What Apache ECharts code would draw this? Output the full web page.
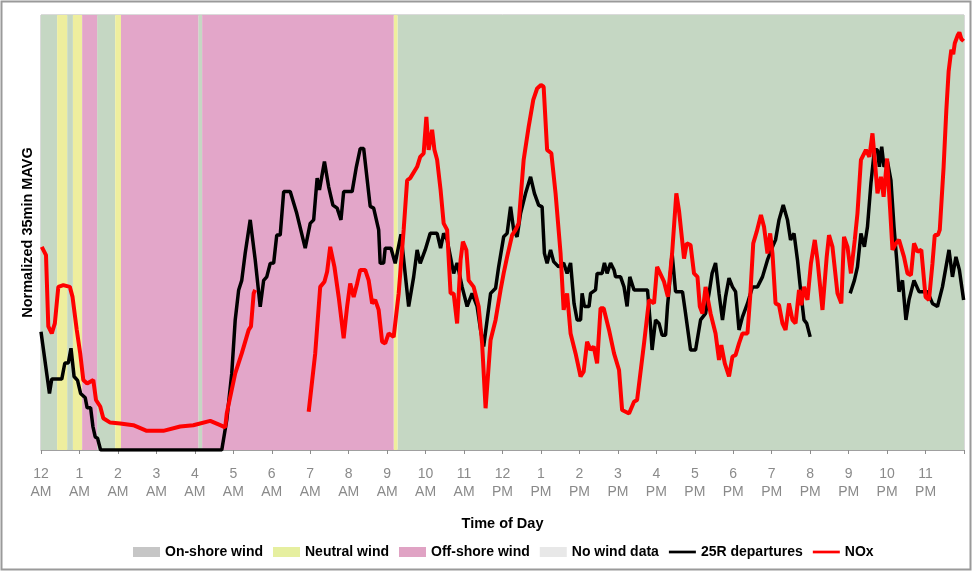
<!DOCTYPE html>
<html>
<head>
<meta charset="utf-8">
<script src="https://cdn.jsdelivr.net/npm/echarts@6/dist/echarts.min.js"></script>
<style>
  html, body { margin: 0; padding: 0; background: #ffffff; }
  #chart { width: 972px; height: 571px; }
</style>
</head>
<body>
<div id="chart"></div>
<script>
// Wind regime periods (hours after midnight)
const bandStart = [0, 0.42, 0.68, 0.83, 1.07, 1.46, 1.93, 2.08, 4.09, 4.19, 9.17, 9.27];
const bandEnd   = [0.42, 0.68, 0.83, 1.07, 1.46, 1.93, 2.08, 4.09, 4.19, 9.17, 9.27, 24];
const bandWind  = ['On-shore wind', 'Neutral wind', 'On-shore wind', 'Neutral wind', 'Off-shore wind',
                   'On-shore wind', 'Neutral wind', 'Off-shore wind', 'On-shore wind', 'Off-shore wind',
                   'Neutral wind', 'On-shore wind'];

// Runway 25R departures, normalized 35-minute moving average
const depHours = [0, 0.22, 0.28, 0.54, 0.62, 0.71, 0.78, 0.86, 0.95, 1.03, 1.15, 1.2, 1.29, 1.35, 1.41, 1.47, 1.55,
  4.70, 4.83, 4.96, 5.05, 5.14, 5.22, 5.31, 5.44, 5.57, 5.70, 5.79, 5.87, 5.96, 6.05, 6.13, 6.22, 6.31, 6.48, 6.65,
  6.87, 7.0, 7.09, 7.18, 7.24, 7.37, 7.48, 7.59, 7.70, 7.80, 7.87, 8.09, 8.20, 8.30, 8.39, 8.56, 8.65, 8.78, 8.82,
  8.91, 8.95, 9.10, 9.21, 9.36, 9.56, 9.69, 9.78, 9.86, 9.99, 10.12, 10.30, 10.39, 10.47, 10.56, 10.73, 10.82,
  10.95, 11.08, 11.21, 11.34, 11.43, 11.51, 11.69, 11.82, 11.90, 12.03, 12.12, 12.21, 12.29, 12.38, 12.47, 12.60,
  12.73, 12.83, 12.94, 13.03, 13.09, 13.16, 13.25, 13.33, 13.46, 13.59, 13.68, 13.77, 13.86, 13.94, 14.03, 14.07,
  14.13, 14.25, 14.29, 14.42, 14.46, 14.59, 14.65, 14.72, 14.81, 14.90, 14.94, 15.07, 15.16, 15.24, 15.31, 15.42,
  15.77, 15.85, 15.89, 15.98, 16.07, 16.15, 16.24, 16.29, 16.33, 16.41, 16.50, 16.68, 16.76, 16.89, 17.02, 17.15,
  17.28, 17.37, 17.45, 17.54, 17.63, 17.72, 17.80, 17.89, 17.98, 18.06, 18.15, 18.24, 18.37, 18.50, 18.63, 18.76,
  18.89, 19.02, 19.10, 19.19, 19.30, 19.41, 19.49, 19.58, 19.67, 19.76, 19.84, 19.91, 20.0, 20.5,
  21.04, 21.15, 21.23, 21.32, 21.41, 21.49, 21.58, 21.67, 21.75, 21.80, 21.86, 21.92, 22.01, 22.10, 22.18, 22.25,
  22.31, 22.40, 22.49, 22.57, 22.70, 22.83, 23.05, 23.18, 23.31, 23.44, 23.61, 23.70, 23.79, 23.88, 23.99];
const depValues = [27.2, 13, 16.3, 16.3, 20, 20, 23.4, 16.9, 16, 13, 12, 9.7, 9.7, 5.4, 3, 2.7, 0,
  0, 6.9, 17.6, 29.9, 36.8, 39, 45.3, 52.9, 43.7, 32.9, 39, 39.8, 42.9, 43, 49.4, 49.4, 59.4, 59.4, 54.4,
  46.4, 52.1, 52.9, 62.5, 59.8, 66.3, 60.5, 56.3, 55.6, 52.9, 59.4, 59.4, 65.1, 69.3, 69.3, 56, 55.6, 50.6, 42.9,
  43, 46.4, 46.4, 42.9, 49.6, 33, 39.8, 46, 42.9, 46, 49.8, 49.8, 46.4, 49.8, 48.3, 40.6, 43,
  37.5, 33, 36, 33, 27.6, 23.8, 36, 37.2, 42.1, 49, 49.8, 55.9, 50.6, 49, 54.4, 59,
  62.8, 59, 56.3, 55.9, 45.2, 42.9, 46, 43.3, 42.1, 43, 40.6, 43, 33.7, 29.9, 29.9, 36,
  33, 33, 36, 36.8, 40.6, 40.6, 43, 40.6, 43, 41.4, 39.8, 39.8, 37.5, 33, 39.8, 36.8,
  36.8, 28.4, 23, 29.9, 29.1, 26.4, 26.4, 33, 36.8, 45.2, 36.4, 36.4, 31.4, 23, 23, 29.9,
  31.4, 36, 40.6, 43, 36, 29.9, 35.2, 39.5, 37.5, 36.4, 27.6, 30.6, 33.7, 37.5, 37.5, 39.8,
  43.7, 46.7, 48.3, 52.9, 56.3, 52.9, 48.3, 49.8, 43.7, 36, 29.9, 29.1, 26, null,
  36, 39, 42.1, 49.8, 46.7, 51.3, 61.3, 69, 69, 65.1, 69.7, 65.1, 66.3, 62, 51.3, 43.7,
  36.4, 39, 29.9, 34.5, 39, 36.4, 36.4, 33.7, 33, 37.5, 46, 39.8, 44.4, 41.4, 34.5];

// NOx concentration, normalized 35-minute moving average
const noxHours = [0.02, 0.13, 0.19, 0.28, 0.36, 0.45, 0.58, 0.75, 0.82, 0.93, 1.02, 1.10, 1.20, 1.36, 1.43, 1.54,
  1.62, 1.80, 2.06, 2.40, 2.75, 3.18, 3.62, 3.96, 4.40, 4.66, 4.79, 4.83, 5.05, 5.22, 5.40, 5.46, 5.53, 5.57, 6.2,
  6.96, 7.13, 7.26, 7.37, 7.44, 7.52, 7.63, 7.74, 7.87, 7.96, 8.04, 8.13, 8.22, 8.30, 8.43, 8.52, 8.61, 8.69, 8.78,
  8.87, 8.95, 9.04, 9.17, 9.30, 9.43, 9.52, 9.60, 9.65, 9.78, 9.86, 9.95, 10.02, 10.08, 10.17, 10.23, 10.30, 10.39,
  10.47, 10.56, 10.65, 10.73, 10.82, 10.91, 10.97, 11.06, 11.12, 11.25, 11.38, 11.47, 11.56, 11.69, 11.82, 11.95,
  12.03, 12.12, 12.16, 12.25, 12.34, 12.42, 12.55, 12.68, 12.80, 12.90, 13.0, 13.07, 13.16, 13.27, 13.38, 13.51,
  13.59, 13.68, 13.77, 13.90, 14.03, 14.11, 14.20, 14.29, 14.37, 14.46, 14.55, 14.63, 14.77, 14.90, 15.03, 15.11,
  15.29, 15.42, 15.50, 15.68, 15.81, 15.94, 16.02, 16.20, 16.30, 16.41, 16.52, 16.59, 16.68, 16.72, 16.79, 16.89,
  16.98, 17.07, 17.13, 17.20, 17.28, 17.41, 17.54, 17.63, 17.69, 17.78, 17.89, 17.98, 18.06, 18.15, 18.24, 18.37,
  18.44, 18.52, 18.61, 18.72, 18.80, 18.89, 18.96, 19.02, 19.10, 19.19, 19.28, 19.36, 19.45, 19.54, 19.62, 19.71,
  19.77, 19.84, 19.93, 20.02, 20.12, 20.19, 20.32, 20.43, 20.49, 20.58, 20.71, 20.81, 20.88, 20.97, 21.06, 21.16,
  21.23, 21.32, 21.45, 21.54, 21.62, 21.68, 21.75, 21.84, 21.91, 22.00, 22.08, 22.14, 22.23, 22.31, 22.44, 22.53,
  22.62, 22.70, 22.79, 22.89, 23.0, 23.09, 23.18, 23.24, 23.32, 23.37, 23.47, 23.54, 23.60, 23.67, 23.72, 23.76,
  23.84, 23.88, 23.93, 23.99];
const noxValues = [46.7, 44.8, 28.4, 26.8, 29.1, 37.5, 37.9, 37.5, 35.2, 27.6, 22.2, 16.1, 15.3, 16.1, 11.5, 10,
  7.3, 6.3, 6.1, 5.7, 4.4, 4.4, 5.4, 5.7, 6.7, 5.7, 5.2, 8.4, 17.6, 22.2, 27.6, 28.4, 36, 36.8, null,
  8.8, 22.2, 37.5, 38.7, 41, 46.7, 42.1, 35.2, 25.7, 33, 38.3, 35.2, 38.3, 41.4, 41.4, 39, 33.7, 34.5, 32.2,
  24.9, 24.5, 26.8, 26, 36, 50.6, 62, 62.5, 62.8, 65.1, 67.4, 68.2, 76.6, 69, 73.6, 69, 66.7, 59.8,
  52.1, 50.6, 36, 36, 29.1, 43.7, 47.9, 46, 39, 37.5, 33, 24.5, 9.6, 25.3, 29.9, 36.8,
  40.6, 44.4, 44.4, 49.4, 50.6, 52.1, 66.7, 74.3, 80.5, 83.1, 83.9, 83.5, 69, 68.2, 59, 45.2,
  32.2, 36, 26.8, 22.2, 16.9, 18, 24.9, 23, 23.8, 19.9, 32.6, 32.6, 27.6, 22.2, 18.4, 9.2,
  8.4, 11.1, 11.5, 24.5, 34.5, 33.7, 42.1, 38.7, 35.2, 45.2, 59, 55, 47.5, 44, 47.5, 47.1,
  40.6, 39.8, 33, 31.4, 37.5, 31.4, 26.8, 20.7, 24.1, 19.9, 16.9, 21.5, 21.8, 24.5, 26.8, 26.8,
  35.2, 47.5, 50.2, 54, 51.3, 45.2, 49.8, 45.2, 33.7, 33.3, 29.1, 27.6, 33.7, 29.9, 29.1, 36.8,
  33.3, 37.5, 34.5, 42.9, 48.3, 43.7, 32.2, 44.4, 49.4, 46.7, 36, 33.7, 49, 46.7, 40.6, 48.3,
  54.4, 66.7, 69, 67.4, 72.8, 66.7, 59, 62.8, 58.2, 67, 55.2, 46, 47.5, 48.3, 44.4, 40.6,
  40.2, 47.5, 45.6, 46, 35.2, 34.5, 42.9, 49.4, 49.4, 50.6, 65.1, 78, 87, 92, 91, 93.5,
  95.4, 96, 94.5, 94];

// Hour ticks along the time axis
const hourTicks = [0, 1, 2, 3, 4, 5, 6, 7, 8, 9, 10, 11, 12, 13, 14, 15, 16, 17, 18, 19, 20, 21, 22, 23];

const windFill = {
  'On-shore wind': '#c5d7c3',
  'Neutral wind': '#eeee9e',
  'Off-shore wind': '#e3a6c9',
  'No wind data': '#e6e6e6'
};
const windSwatch = {
  'On-shore wind': '#c6c6c6',
  'Neutral wind': '#e6efa0',
  'Off-shore wind': '#e0a3c4',
  'No wind data': '#e8e8e8'
};
const windNames = ['On-shore wind', 'Neutral wind', 'Off-shore wind', 'No wind data'];

// thin horizontal stroke inside a full-height icon box
const lineIcon = 'path://M0,0M0,10M0,3.5L30,3.5L30,6.5L0,6.5Z';

function pairs(xs, ys) {
  return xs.map((x, i) => [x, ys[i] === null ? '-' : ys[i]]);
}

const windSeries = windNames.map(name => ({
  name: name,
  type: 'line',
  data: [],
  silent: true,
  itemStyle: { color: windSwatch[name] },
  markArea: {
    silent: true,
    itemStyle: { color: windFill[name], opacity: 1 },
    data: bandStart
      .map((s, i) => ({ s: s, e: bandEnd[i], w: bandWind[i] }))
      .filter(b => b.w === name)
      .map(b => [{ xAxis: b.s }, { xAxis: b.e }])
  }
}));

const chart = echarts.init(document.getElementById('chart'), null, { renderer: 'canvas' });
const fontFam = '"Liberation Sans", Arial, sans-serif';

chart.setOption({
  animation: false,
  backgroundColor: '#ffffff',
  textStyle: { fontFamily: fontFam },
  graphic: [{
    type: 'rect',
    shape: { x: 1.5, y: 1.5, width: 969, height: 568 },
    style: { fill: 'none', stroke: '#9a9a9a', lineWidth: 2 },
    silent: true,
    z: 100
  }],
  grid: { left: 41, right: 8, top: 15, bottom: 121, show: true, borderColor: '#b4b4b4', borderWidth: 1, backgroundColor: 'transparent' },
  legend: {
    bottom: 7,
    left: 128,
    itemWidth: 27,
    itemHeight: 10,
    itemGap: 10,
    textStyle: { fontFamily: fontFam, fontWeight: 'bold', fontSize: 14, color: '#000' },
    data: windNames.map(n => ({ name: n, icon: 'rect' })).concat([
      { name: '25R departures', icon: lineIcon, itemStyle: { color: '#000' } },
      { name: 'NOx', icon: lineIcon, itemStyle: { color: '#ff0000' } }
    ])
  },
  xAxis: {
    type: 'value',
    min: 0,
    max: 24,
    interval: 1,
    name: 'Time of Day',
    nameLocation: 'middle',
    nameGap: 66,
    nameTextStyle: { fontFamily: fontFam, fontWeight: 'bold', fontSize: 14.5, color: '#000' },
    axisLine: { show: true, lineStyle: { color: '#a0a0a0' } },
    axisTick: { show: true, length: 4, lineStyle: { color: '#8c8c8c' } },
    splitLine: { show: false },
    axisLabel: {
      color: '#8a8a8a',
      fontSize: 14,
      lineHeight: 18,
      margin: 15,
      formatter: function (v) {
        if (hourTicks.indexOf(v) < 0) return '';
        const h = v % 12 === 0 ? 12 : v % 12;
        return h + '\n' + (v < 12 ? 'AM' : 'PM');
      }
    }
  },
  yAxis: {
    type: 'value',
    min: 0,
    max: 100,
    name: 'Normalized 35min MAVG',
    nameLocation: 'middle',
    nameGap: 6,
    nameTextStyle: { fontFamily: fontFam, fontWeight: 'bold', fontSize: 14.5, color: '#000' },
    axisLine: { show: false },
    axisTick: { show: false },
    axisLabel: { show: false },
    splitLine: { show: false }
  },
  series: windSeries.concat([
    {
      name: '25R departures',
      type: 'line',
      data: pairs(depHours, depValues),
      showSymbol: false,
      connectNulls: false,
      lineStyle: { color: '#000000', width: 3.5 },
      itemStyle: { color: '#000000' },
      z: 5
    },
    {
      name: 'NOx',
      type: 'line',
      data: pairs(noxHours, noxValues),
      showSymbol: false,
      connectNulls: false,
      lineStyle: { color: '#ff0000', width: 4 },
      itemStyle: { color: '#ff0000' },
      z: 6
    }
  ])
});
</script>
</body>
</html>
